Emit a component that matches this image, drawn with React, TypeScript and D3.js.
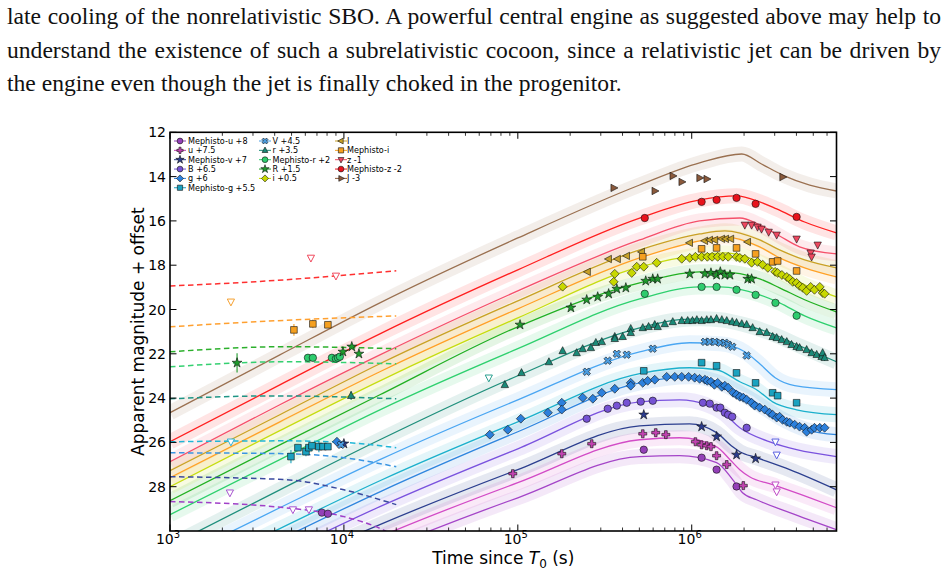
import React, { useLayoutEffect, useRef } from 'react';
import * as d3 from 'd3';

type Obs = [number, number] | [number, number, number];
type Curve = [number, number][];

const W = 948;
const H = 574;
const PLOT = { left: 170, right: 836.5, top: 132.3, bottom: 531 };

const paragraphLines = [
  'late cooling of the nonrelativistic SBO. A powerful central engine as suggested above may help to',
  'understand the existence of such a subrelativistic cocoon, since a relativistic jet can be driven by',
  'the engine even though the jet is finally choked in the progenitor.',
];
const paragraphJustified = [true, true, false];

const xMajorTicks = [1e3, 1e4, 1e5, 1e6];
const xTickExponents = ['3', '4', '5', '6'];
const yTicks = [12, 14, 16, 18, 20, 22, 24, 26, 28];

// ---- model light curves (time [s], magnitude + offset) ----
const modelJ: Curve = [[1e3, 24.66], [4.28e3, 22.05], [1.61e4, 19.7], [1e5, 16.77], [5.02e5, 14.38], [1.11e6, 13.38], [1.94e6, 12.98], [2.52e6, 13.43], [3.33e6, 13.93], [4.77e6, 14.38], [6.8e6, 14.65]];
const modelMephZ: Curve = [[1e3, 25.97], [4.28e3, 23.4], [1.61e4, 21.1], [1e5, 18.21], [5.02e5, 15.87], [1.11e6, 15.05], [1.81e6, 14.87], [2.46e6, 15.14], [3.08e6, 15.46], [4.46e6, 16.05], [6.8e6, 16.54]];
const modelZ: Curve = [[1e3, 26.87], [4.28e3, 24.3], [1.61e4, 22.05], [1e5, 19.16], [5.02e5, 16.86], [1.11e6, 16.0], [1.89e6, 15.87], [2.46e6, 16.18], [3.2e6, 16.68], [4.17e6, 17.17], [6.8e6, 17.49]];
const modelIBig: Curve = [[1e3, 27.28], [4.28e3, 24.75], [1.61e4, 22.45], [1e5, 19.61], [5.02e5, 17.31], [1.11e6, 16.59], [1.55e6, 16.45], [2.46e6, 16.86], [3.2e6, 17.31], [4.46e6, 17.76], [6.8e6, 18.12]];
const modelMephI: Curve = [[1e3, 27.59], [4.28e3, 25.07], [1.61e4, 22.81], [1e5, 19.97], [5.02e5, 17.67], [1.11e6, 16.9], [1.55e6, 16.72], [2.46e6, 17.17], [3.2e6, 17.67], [4.46e6, 18.12], [6.8e6, 18.53]];
const modelI: Curve = [[1e3, 28.0], [4.28e3, 25.47], [1.61e4, 23.22], [1e5, 20.38], [5.02e5, 18.08], [1.11e6, 17.53], [1.55e6, 17.44], [2.46e6, 17.85], [3.2e6, 18.3], [4.46e6, 18.89], [6.8e6, 19.43]];
const modelRBig: Curve = [[1e3, 28.63], [4.28e3, 26.11], [1.61e4, 23.85], [1e5, 20.78], [5.02e5, 18.8], [1.11e6, 18.3], [1.46e6, 18.3], [2.46e6, 18.62], [3.2e6, 19.02], [4.46e6, 19.56], [6.8e6, 20.11]];
const modelMephR: Curve = [[1e3, 29.26], [4.28e3, 26.78], [1.61e4, 24.53], [1e5, 21.77], [5.02e5, 19.52], [1.11e6, 18.98], [1.46e6, 18.98], [2.46e6, 19.34], [3.2e6, 19.7], [4.46e6, 20.29], [6.8e6, 20.83]];
const modelR: Curve = [[1e3, 30.66], [4.28e3, 28.14], [1.61e4, 25.88], [1e5, 22.99], [5.02e5, 20.83], [8.52e5, 20.46], [1.11e6, 20.42], [1.46e6, 20.46], [2.02e6, 20.69], [2.8e6, 21.05], [4.17e6, 21.64], [6.8e6, 22.36]];
const modelV: Curve = [[1e3, 31.39], [4.28e3, 28.95], [1.61e4, 26.78], [1e5, 24.08], [5.02e5, 21.91], [9.73e5, 21.5], [1.46e6, 21.55], [2.02e6, 21.91], [2.46e6, 22.45], [3.02e6, 23.08], [3.91e6, 23.44], [6.8e6, 23.62]];
const modelMephG: Curve = [[1e3, 32.29], [4.28e3, 29.89], [1.61e4, 27.73], [1e5, 25.07], [5.02e5, 22.9], [9.73e5, 22.63], [1.39e6, 22.72], [1.89e6, 23.26], [2.36e6, 23.62], [2.92e6, 24.17], [4.01e6, 24.53], [6.8e6, 24.75]];
const modelG: Curve = [[1e3, 32.83], [4.28e3, 30.39], [1.61e4, 28.23], [1e5, 25.52], [5.02e5, 23.31], [9.73e5, 23.04], [1.39e6, 23.26], [1.89e6, 23.76], [2.36e6, 24.21], [3.2e6, 24.88], [4.58e6, 25.43], [6.8e6, 25.65]];
const modelB: Curve = [[1e3, 33.41], [4.28e3, 31.03], [1.61e4, 28.9], [1e5, 26.29], [5.02e5, 24.17], [8.52e5, 24.08], [1.22e6, 24.3], [1.51e6, 24.66], [1.89e6, 25.34], [2.92e6, 26.02], [4.01e6, 26.33], [6.8e6, 26.64]];
const modelMephV: Curve = [[1e3, 33.95], [4.28e3, 31.7], [1.61e4, 29.71], [1e5, 27.23], [5.02e5, 25.25], [9.73e5, 25.16], [1.39e6, 25.56], [1.72e6, 26.2], [1.89e6, 26.42], [2.36e6, 26.69], [3.66e6, 27.23], [6.8e6, 28.14]];
const modelU: Curve = [[1e3, 34.49], [4.28e3, 32.29], [1.61e4, 30.26], [1e5, 27.82], [5.02e5, 25.88], [8.52e5, 25.79], [1.39e6, 26.2], [1.66e6, 26.78], [1.89e6, 27.23], [2.15e6, 27.55], [2.92e6, 27.91], [4.58e6, 28.45], [6.8e6, 28.95]];
const modelMephU: Curve = [[1e3, 34.95], [4.28e3, 32.78], [1.61e4, 30.89], [1e5, 28.5], [5.02e5, 26.64], [8.52e5, 26.6], [1.39e6, 26.91], [1.72e6, 27.68], [1.96e6, 28.27], [2.36e6, 28.59], [3.66e6, 29.17], [6.8e6, 29.94]];

// ---- early cooling-envelope curves (dashed) ----
const coolZ: Curve = [[1e3, 18.94], [4e3, 18.69], [2e4, 18.25]];
const coolMephI: Curve = [[1e3, 20.78], [4e3, 20.51], [2e4, 20.29]];
const coolRBig: Curve = [[1e3, 21.91], [4.6e3, 21.68], [2e4, 21.77]];
const coolMephR: Curve = [[1e3, 22.59], [4.6e3, 22.36], [2e4, 22.45]];
const coolR: Curve = [[1e3, 24.03], [4e3, 23.9], [2e4, 24.03]];
const coolMephG: Curve = [[1e3, 25.97], [4.6e3, 25.93], [1e4, 26.0], [2e4, 26.24]];
const coolG: Curve = [[1e3, 26.47], [4.6e3, 26.51], [1e4, 26.69], [2e4, 27.1]];
const coolMephV: Curve = [[1e3, 27.55], [4.6e3, 27.68], [1e4, 28.14], [2e4, 28.81]];
const coolMephU: Curve = [[1e3, 28.67], [4.6e3, 28.95], [1e4, 29.35], [1.67e4, 29.94], [2e4, 30.26]];

// ---- photometry (time [s], magnitude + offset, optional error) ----
const obsMephU: Obs[] = [[7.47e3, 29.17], [8.09e3, 29.22], [5.3e5, 26.33], [1.14e6, 26.69], [1.39e6, 27.23], [1.81e6, 27.99]];
const obsU: Obs[] = [[9.36e4, 27.41], [1.79e5, 26.51], [2.66e5, 26.06], [5.23e5, 25.61], [6.21e5, 25.56], [7.1e5, 25.65], [1.05e6, 25.97], [1.14e6, 26.11], [1.22e6, 26.15], [1.29e6, 26.19], [1.39e6, 26.6], [1.59e6, 27.0], [1.98e6, 27.95]];
const obsMephV: Obs[] = [[1.0e4, 26.06], [5.3e5, 24.75], [1.14e6, 25.29], [1.39e6, 25.74], [1.81e6, 26.56], [2.33e6, 26.73]];
const obsB: Obs[] = [[2.49e5, 24.93], [3.29e5, 24.48], [3.71e5, 24.34], [4.23e5, 24.21], [5.09e5, 24.16], [5.97e5, 24.12], [1.16e6, 24.21], [1.27e6, 24.25], [1.39e6, 24.43], [1.46e6, 24.43], [1.55e6, 24.66], [1.62e6, 24.75], [1.71e6, 24.84], [2.07e6, 25.34]];
const obsG: Obs[] = [
  [9.12e3, 25.97], [6.9e4, 25.65], [8.76e4, 25.43], [1.04e5, 24.93], [1.49e5, 24.66], [1.79e5, 24.21], [1.79e5, 24.52],
  [2.36e5, 23.98], [2.7e5, 24.03], [3.04e5, 23.76], [3.61e5, 23.58], [4.46e5, 23.31], [4.46e5, 23.44], [5.23e5, 23.31],
  [5.58e5, 23.22], [6.13e5, 23.17], [7.18e5, 23.04], [7.99e5, 23.04], [8.76e5, 23.04], [9.6e5, 23.04], [1.04e6, 23.08],
  [1.11e6, 23.13], [1.19e6, 23.17], [1.23e6, 23.22], [1.29e6, 23.26], [1.35e6, 23.4], [1.41e6, 23.31], [1.49e6, 23.49],
  [1.55e6, 23.44], [1.62e6, 23.53], [1.73e6, 23.76], [1.81e6, 23.85], [1.89e6, 23.94], [1.98e6, 23.98], [2.07e6, 24.07],
  [2.21e6, 24.21], [2.3e6, 24.34], [2.46e6, 24.43], [2.63e6, 24.52], [2.8e6, 24.66], [2.92e6, 24.75], [3.08e6, 24.88],
  [3.2e6, 24.84], [3.33e6, 24.98], [3.52e6, 25.07], [3.66e6, 25.11], [3.91e6, 25.2], [4.17e6, 25.29], [4.46e6, 25.34],
  [4.58e6, 25.52], [4.89e6, 25.43], [5.08e6, 25.34], [5.45e6, 25.34], [5.81e6, 25.34],
];
const obsMephG: Obs[] = [[4.96e3, 26.64, 0.3], [5.44e3, 26.24], [6.05e3, 26.42, 0.2], [6.29e3, 26.24], [6.55e3, 26.15], [7.18e3, 26.19, 0.25], [7.58e3, 26.19], [8.09e3, 26.19], [5.3e5, 22.77], [1.14e6, 22.4], [1.39e6, 22.54], [1.81e6, 22.86], [2.33e6, 23.31], [2.92e6, 23.76], [3.12e6, 23.89], [4.01e6, 24.21]];
const obsV: Obs[] = [[9.61e3, 26.11], [2.49e5, 22.81], [3.29e5, 22.31], [3.71e5, 22.0], [4.23e5, 22.04], [5.97e5, 21.77], [1.19e6, 21.46], [1.27e6, 21.46], [1.36e6, 21.46], [1.46e6, 21.5], [1.55e6, 21.5], [1.62e6, 21.59], [1.71e6, 21.68], [2.07e6, 22.08]];
const obsR: Obs[] = [
  [1.1e4, 23.89, 0.2], [8.42e4, 23.4], [1.05e5, 22.86], [1.51e5, 22.37], [1.81e5, 21.87], [2.18e5, 21.96], [2.36e5, 21.78],
  [2.63e5, 21.73], [2.81e5, 21.5], [3.04e5, 21.46], [3.61e5, 21.23], [3.61e5, 21.32], [4.01e5, 21.23], [4.46e5, 20.87],
  [4.46e5, 21.05], [5.23e5, 20.83], [5.65e5, 20.78], [6.13e5, 20.69], [6.37e5, 20.78], [7.0e5, 20.65], [7.78e5, 20.56],
  [8.76e5, 20.51], [9.48e5, 20.51], [1.01e6, 20.51], [1.07e6, 20.47], [1.14e6, 20.51], [1.22e6, 20.47], [1.29e6, 20.47],
  [1.39e6, 20.42], [1.49e6, 20.47], [1.59e6, 20.51], [1.71e6, 20.56], [1.81e6, 20.6], [1.94e6, 20.65], [2.07e6, 20.69],
  [2.24e6, 20.83], [2.46e6, 21.01], [2.7e6, 21.05], [2.92e6, 21.23], [3.08e6, 21.28], [3.29e6, 21.37], [3.52e6, 21.46],
  [3.75e6, 21.59], [4.01e6, 21.68], [4.17e6, 21.73], [4.58e6, 21.82], [4.89e6, 21.96], [5.23e6, 22.04], [5.58e6, 22.13],
  [5.66e6, 21.96], [5.81e6, 22.18, 0.15],
];
const obsMephR: Obs[] = [[6.21e3, 22.18], [6.63e3, 22.18], [8.53e3, 22.18], [9.0e3, 22.22], [9.24e3, 22.18], [9.48e3, 22.13], [5.37e5, 19.29], [1.14e6, 18.98], [1.39e6, 18.98], [1.81e6, 19.11], [2.33e6, 19.34], [3.03e6, 19.7], [4.01e6, 20.28]];
const obsRBig: Obs[] = [[2.43e3, 22.41, 0.43], [9.87e3, 21.91], [1.11e4, 21.68], [1.22e4, 22.0], [1.03e5, 20.69], [2.02e5, 19.92], [2.49e5, 19.56], [2.88e5, 19.43], [3.33e5, 19.29], [3.71e5, 19.07], [4.18e5, 19.02], [5.44e5, 18.71], [5.97e5, 18.62], [6.37e5, 18.62], [9.74e5, 18.39], [1.19e6, 18.39], [1.29e6, 18.35], [1.39e6, 18.44], [1.46e6, 18.3], [1.55e6, 18.44], [1.66e6, 18.44], [2.1e6, 18.62], [2.21e6, 18.62]];
const obsI: Obs[] = [
  [1.81e5, 18.97], [3.56e5, 18.75], [3.61e5, 18.39], [4.52e5, 18.35], [4.83e5, 18.07], [5.3e5, 18.07], [6.29e5, 17.89],
  [8.76e5, 17.71], [9.74e5, 17.67], [1.05e6, 17.62], [1.14e6, 17.62], [1.23e6, 17.62], [1.31e6, 17.62], [1.41e6, 17.62],
  [1.51e6, 17.62], [1.62e6, 17.62], [1.81e6, 17.62], [1.89e6, 17.67], [2.02e6, 17.71], [2.21e6, 17.89], [2.39e6, 17.85],
  [2.56e6, 17.98], [2.74e6, 18.12], [3.02e6, 18.3], [3.12e6, 18.35], [3.3e6, 18.44], [3.52e6, 18.53], [3.66e6, 18.62],
  [3.81e6, 18.75], [4.01e6, 18.8], [4.17e6, 18.93], [4.35e6, 19.02], [4.58e6, 19.16], [4.83e6, 18.98], [5.08e6, 19.11],
  [5.45e6, 18.98], [5.66e6, 19.25], [5.81e6, 19.29],
];
const obsIBig: Obs[] = [[2.52e5, 18.3], [3.33e5, 17.72], [3.75e5, 17.72], [4.23e5, 17.58], [5.16e5, 17.4], [9.74e5, 16.99], [1.19e6, 16.9], [1.27e6, 16.86], [1.36e6, 16.86], [1.49e6, 16.81], [1.57e6, 16.81], [1.68e6, 16.81], [2.1e6, 16.95]];
const obsMephI: Obs[] = [[5.16e3, 20.92, 0.27], [6.63e3, 20.65, 0.2], [8.09e3, 20.69], [5.23e5, 17.62], [1.14e6, 17.26], [1.39e6, 17.22], [1.81e6, 17.22], [2.33e6, 17.49], [2.92e6, 17.85], [3.12e6, 17.81], [4.01e6, 18.26]];
const obsZ: Obs[] = [[2.02e6, 16.18], [2.21e6, 16.18], [2.39e6, 16.27], [2.52e6, 16.36], [2.77e6, 16.5], [3.08e6, 16.63], [4.01e6, 16.81], [5.3e6, 17.08], [4.83e6, 17.44], [4.89e6, 17.62]];
const obsMephZ: Obs[] = [[5.37e5, 15.87], [1.14e6, 15.14], [1.39e6, 15.05], [1.81e6, 14.96], [2.33e6, 15.23], [4.01e6, 15.82]];
const obsJ: Obs[] = [[3.56e5, 14.51], [6.13e5, 14.65], [7.78e5, 13.97], [8.76e5, 14.24], [1.11e6, 14.06], [1.22e6, 14.11], [3.33e6, 14.02]];

// ---- upper limits (open downward triangles) ----
const limZ: Obs[] = [[6.46e3, 17.67], [9.0e3, 18.48]];
const limMephI: Obs[] = [[2.24e3, 19.65]];
const limR: Obs[] = [[6.81e4, 23.08]];
const limMephG: Obs[] = [[2.24e3, 25.97]];
const limB: Obs[] = [[3.03e6, 25.97], [3.08e6, 26.56]];
const limU: Obs[] = [[3.03e6, 27.91], [3.08e6, 28.22]];
const limMephU: Obs[] = [[2.21e3, 28.27], [5.09e3, 29.03], [6.29e3, 29.03]];

type Shape = 'circle' | 'plus' | 'star' | 'diamond' | 'square' | 'x' | 'triUp' | 'triDown' | 'triLeft' | 'triRight';

interface Band {
  label: string;
  line: string;
  fill: string;
  shape: Shape;
  model: Curve;
  obs: Obs[];
}

const bands: Band[] = [
  { label: 'Mephisto-u +8', line: '#a445c8', fill: '#9440b8', shape: 'circle', model: modelMephU, obs: obsMephU },
  { label: 'u +7.5', line: '#d24bc6', fill: '#c043b0', shape: 'plus', model: modelU, obs: obsU },
  { label: 'Mephisto-v +7', line: '#2c3f8f', fill: '#2b3b8c', shape: 'star', model: modelMephV, obs: obsMephV },
  { label: 'B +6.5', line: '#7a52de', fill: '#7652d4', shape: 'circle', model: modelB, obs: obsB },
  { label: 'g +6', line: '#2f86de', fill: '#2c80dc', shape: 'diamond', model: modelG, obs: obsG },
  { label: 'Mephisto-g +5.5', line: '#1cb0cc', fill: '#1aa2c0', shape: 'square', model: modelMephG, obs: obsMephG },
  { label: 'V +4.5', line: '#4aa6f2', fill: '#4a9de2', shape: 'x', model: modelV, obs: obsV },
  { label: 'r +3.5', line: '#1f8f7c', fill: '#1a8a78', shape: 'triUp', model: modelR, obs: obsR },
  { label: 'Mephisto-r +2', line: '#2ed06e', fill: '#2ecc6e', shape: 'circle', model: modelMephR, obs: obsMephR },
  { label: 'R +1.5', line: '#22b022', fill: '#1f9a2c', shape: 'star', model: modelRBig, obs: obsRBig },
  { label: 'i +0.5', line: '#c6dc10', fill: '#c8d800', shape: 'diamond', model: modelI, obs: obsI },
  { label: 'I', line: '#c9a125', fill: '#c8a028', shape: 'triLeft', model: modelIBig, obs: obsIBig },
  { label: 'Mephisto-i', line: '#ffa126', fill: '#f5a020', shape: 'square', model: modelMephI, obs: obsMephI },
  { label: 'z -1', line: '#f5506a', fill: '#ee4860', shape: 'triDown', model: modelZ, obs: obsZ },
  { label: 'Mephisto-z -2', line: '#ff1f1f', fill: '#e8121c', shape: 'circle', model: modelMephZ, obs: obsMephZ },
  { label: 'J -3', line: '#9a7050', fill: '#8b5a3c', shape: 'triRight', model: modelJ, obs: obsJ },
];

const coolingCurves: { color: string; curve: Curve }[] = [
  { color: '#ff3030', curve: coolZ },
  { color: '#ffa030', curve: coolMephI },
  { color: '#2cb02c', curve: coolRBig },
  { color: '#34d070', curve: coolMephR },
  { color: '#1f9585', curve: coolR },
  { color: '#20b6d6', curve: coolMephG },
  { color: '#3a95e2', curve: coolG },
  { color: '#3a4a9e', curve: coolMephV },
  { color: '#a040c8', curve: coolMephU },
];

const upperLimits: { color: string; pts: Obs[] }[] = [
  { color: '#f04a5e', pts: limZ },
  { color: '#f5a030', pts: limMephI },
  { color: '#2aa090', pts: limR },
  { color: '#30b4d8', pts: limMephG },
  { color: '#5a60e0', pts: limB },
  { color: '#c050c8', pts: limU },
  { color: '#a855d0', pts: limMephU },
];

function markerPath(shape: Shape, s: number): string {
  switch (shape) {
    case 'circle':
      return d3.symbol(d3.symbolCircle, Math.PI * s * s)() as string;
    case 'square':
      return `M${-s * 0.9},${-s * 0.9}H${s * 0.9}V${s * 0.9}H${-s * 0.9}Z`;
    case 'diamond': {
      const d = s * 1.2;
      return `M0,${-d}L${d},0L0,${d}L${-d},0Z`;
    }
    case 'triUp':
      return `M0,${-s * 1.15}L${s},${s * 0.75}L${-s},${s * 0.75}Z`;
    case 'triDown':
      return `M0,${s * 1.15}L${s},${-s * 0.75}L${-s},${-s * 0.75}Z`;
    case 'triLeft':
      return `M${-s * 1.15},0L${s * 0.75},${-s}L${s * 0.75},${s}Z`;
    case 'triRight':
      return `M${s * 1.15},0L${-s * 0.75},${-s}L${-s * 0.75},${s}Z`;
    case 'star':
      return d3.symbol(d3.symbolStar, s * s * 2.1)() as string;
    case 'plus':
    case 'x':
      return d3.symbol(d3.symbolCross, s * s * 2.6)() as string;
  }
  return '';
}

const x = d3.scaleLog().domain([1e3, 6.8e6]).range([PLOT.left, PLOT.right]);
const y = d3.scaleLinear().domain([12, 30]).range([PLOT.top, PLOT.bottom]);

const linePath = d3
  .line<[number, number]>()
  .x((d) => x(d[0]))
  .y((d) => y(d[1]))
  .curve(d3.curveMonotoneX);

function minorTicks(): number[] {
  const out: number[] = [];
  for (let e = 3; e <= 6; e++) {
    for (let k = 2; k <= 9; k++) {
      const v = k * 10 ** e;
      if (v < 6.8e6) out.push(v);
    }
  }
  return out;
}

function Marker({ shape, fill, cx, cy, s }: { shape: Shape; fill: string; cx: number; cy: number; s: number }) {
  const rot = shape === 'x' ? ' rotate(45)' : '';
  return (
    <path
      d={markerPath(shape, s)}
      transform={`translate(${cx},${cy})${rot}`}
      fill={fill}
      stroke="#111"
      strokeWidth={0.6}
    />
  );
}

const TEXT_LEFT = 7;
const TEXT_RIGHT = 941;

export default function App() {
  const minors = minorTicks();
  const textRefs = useRef<(SVGTextElement | null)[]>([]);

  // justify the running text by stretching the word gaps, like a typeset column
  useLayoutEffect(() => {
    textRefs.current.forEach((el, i) => {
      if (!el || !paragraphJustified[i]) return;
      el.setAttribute('word-spacing', '0');
      const natural = el.getComputedTextLength();
      const gaps = (paragraphLines[i].match(/ /g) || []).length;
      const extra = TEXT_RIGHT - TEXT_LEFT - natural;
      if (extra >= 0 && gaps > 0) {
        el.setAttribute('word-spacing', String(extra / gaps));
      } else {
        el.setAttribute('textLength', String(TEXT_RIGHT - TEXT_LEFT));
        el.setAttribute('lengthAdjust', 'spacingAndGlyphs');
      }
    });
  }, []);

  const legendCols = [
    { mx: 180, tx: 188, items: bands.slice(0, 6) },
    { mx: 265, tx: 272.5, items: bands.slice(6, 11) },
    { mx: 341, tx: 347, items: bands.slice(11, 16) },
  ];
  const rowY = (i: number) => 141 + i * 9.35;
  const font = 'DejaVu Sans, sans-serif';

  return (
    <svg
      width={W}
      height={H}
      viewBox={`0 0 ${W} ${H}`}
      style={{ position: 'absolute', left: 0, top: 0, background: '#fff' }}
    >
      <rect x={0} y={0} width={W} height={H} fill="#fff" />

      {/* running text above the figure */}
      {paragraphLines.map((t, i) => (
        <text
          key={i}
          ref={(el) => {
            textRefs.current[i] = el;
          }}
          x={TEXT_LEFT}
          y={24 + i * 33.5}
          style={{ fontFamily: "'Liberation Serif', 'Times New Roman', Times, serif" }}
          fontSize={23.6}
          fill="#111"
        >
          {t}
        </text>
      ))}

      <defs>
        <clipPath id="plot-clip">
          <rect x={PLOT.left} y={PLOT.top} width={PLOT.right - PLOT.left} height={PLOT.bottom - PLOT.top} />
        </clipPath>
      </defs>

      <g clipPath="url(#plot-clip)">
        {/* uncertainty bands of the models */}
        {bands.map((b) => (
          <path
            key={'band-' + b.label}
            d={linePath(b.model) as string}
            fill="none"
            stroke={b.line}
            strokeOpacity={0.12}
            strokeWidth={15}
          />
        ))}
        {bands.map((b) => (
          <path key={'line-' + b.label} d={linePath(b.model) as string} fill="none" stroke={b.line} strokeWidth={1.3} />
        ))}
        {coolingCurves.map((c, i) => (
          <path
            key={'cool-' + i}
            d={linePath(c.curve) as string}
            fill="none"
            stroke={c.color}
            strokeWidth={1.5}
            strokeDasharray="5.5,3.5"
          />
        ))}

        {/* upper limits */}
        {upperLimits.map((u, i) =>
          u.pts.map((p, j) => (
            <path
              key={`lim-${i}-${j}`}
              d={markerPath('triDown', 3.6)}
              transform={`translate(${x(p[0])},${y(p[1])})`}
              fill="#fff"
              stroke={u.color}
              strokeWidth={1}
            />
          ))
        )}

        {/* error bars */}
        {bands.map((b) =>
          b.obs
            .filter((p) => p.length === 3)
            .map((p, j) => (
              <line
                key={`err-${b.label}-${j}`}
                x1={x(p[0])}
                x2={x(p[0])}
                y1={y(p[1] - (p[2] as number))}
                y2={y(p[1] + (p[2] as number))}
                stroke={b.fill}
                strokeWidth={1.1}
              />
            ))
        )}

        {/* detections */}
        {bands.map((b) =>
          b.obs.map((p, j) => (
            <Marker
              key={`obs-${b.label}-${j}`}
              shape={b.shape}
              fill={b.fill}
              cx={x(p[0])}
              cy={y(p[1])}
              s={b.shape === 'star' ? 3.8 : 3.7}
            />
          ))
        )}
      </g>

      {/* frame */}
      <rect
        x={PLOT.left}
        y={PLOT.top}
        width={PLOT.right - PLOT.left}
        height={PLOT.bottom - PLOT.top}
        fill="none"
        stroke="#000"
        strokeWidth={1.6}
      />

      {/* x ticks (bottom and top, pointing inward) */}
      {xMajorTicks.map((t, i) => (
        <g key={'xmaj' + i}>
          <line x1={x(t)} x2={x(t)} y1={PLOT.bottom} y2={PLOT.bottom - 6.5} stroke="#000" strokeWidth={1} />
          <line x1={x(t)} x2={x(t)} y1={PLOT.top} y2={PLOT.top + 6.5} stroke="#000" strokeWidth={1} />
          <text x={x(t) - 2} y={543.5} textAnchor="middle" fontFamily={font} fontSize={14} fill="#000">
            10
            <tspan fontSize={10} dy={-5.5}>
              {xTickExponents[i]}
            </tspan>
          </text>
        </g>
      ))}
      {minors.map((t, i) => (
        <g key={'xmin' + i}>
          <line x1={x(t)} x2={x(t)} y1={PLOT.bottom} y2={PLOT.bottom - 3.5} stroke="#000" strokeWidth={0.8} />
          <line x1={x(t)} x2={x(t)} y1={PLOT.top} y2={PLOT.top + 3.5} stroke="#000" strokeWidth={0.8} />
        </g>
      ))}

      {/* y ticks (left and right, pointing inward) */}
      {yTicks.map((v) => (
        <g key={'y' + v}>
          <line x1={PLOT.left} x2={PLOT.left + 6.5} y1={y(v)} y2={y(v)} stroke="#000" strokeWidth={1} />
          <line x1={PLOT.right} x2={PLOT.right - 6.5} y1={y(v)} y2={y(v)} stroke="#000" strokeWidth={1} />
          <text x={166} y={y(v) + 5} textAnchor="end" fontFamily={font} fontSize={14} fill="#000">
            {v}
          </text>
        </g>
      ))}

      {/* axis titles */}
      <text
        transform={`translate(144,${(PLOT.top + PLOT.bottom) / 2}) rotate(-90)`}
        textAnchor="middle"
        fontFamily={font}
        fontSize={17}
        fill="#000"
      >
        Apparent magnitude + offset
      </text>
      <text x={(PLOT.left + PLOT.right) / 2} y={563.5} textAnchor="middle" fontFamily={font} fontSize={17} fill="#000">
        Time since <tspan fontStyle="italic">T</tspan>
        <tspan fontSize={12} dy={4}>
          0
        </tspan>
        <tspan dy={-4}> (s)</tspan>
      </text>

      {/* legend */}
      {legendCols.map((col, ci) =>
        col.items.map((b, ri) => (
          <g key={`leg-${ci}-${ri}`}>
            <line x1={col.mx - 6} x2={col.mx + 6} y1={rowY(ri)} y2={rowY(ri)} stroke={b.fill} strokeWidth={1} />
            <Marker shape={b.shape} fill={b.fill} cx={col.mx} cy={rowY(ri)} s={b.shape === 'star' ? 3.2 : 2.9} />
            <text x={col.tx} y={rowY(ri) + 3} fontFamily={font} fontSize={8.1} fill="#000">
              {b.label}
            </text>
          </g>
        ))
      )}
    </svg>
  );
}
